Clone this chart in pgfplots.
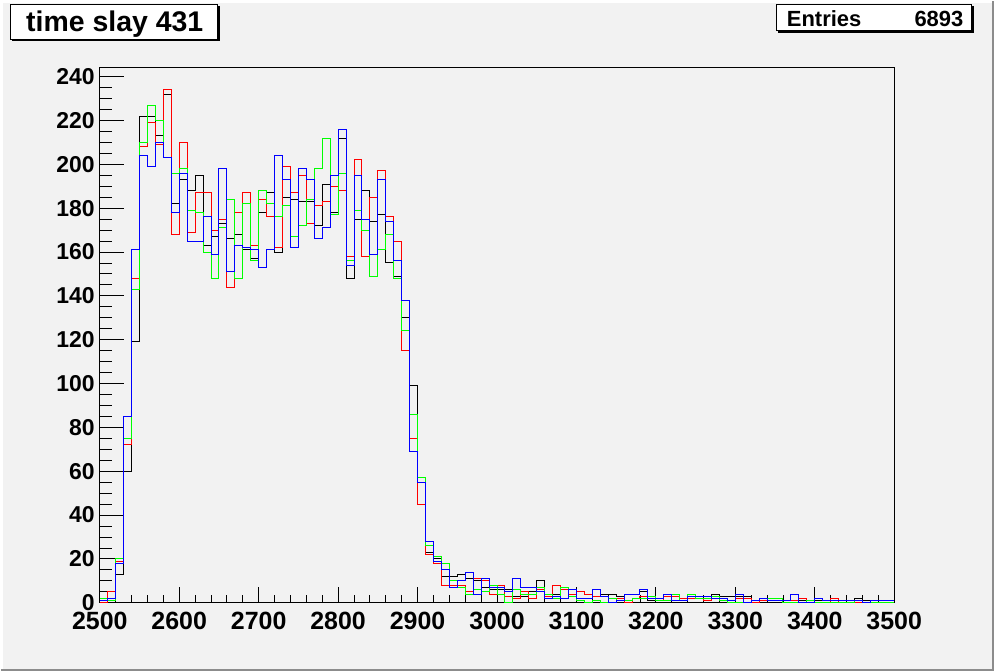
\documentclass[border=0pt]{standalone}
\usepackage{pgfplots}
\pgfplotsset{compat=1.18}
\usepackage{pgfplotstable}
\usepackage{fontspec}
\setmainfont{Liberation Sans}
\definecolor{canvas}{RGB}{242,242,242}
\definecolor{rred}{RGB}{255,0,0}
\definecolor{rgreen}{RGB}{0,255,0}
\definecolor{rblue}{RGB}{0,0,255}

\pgfplotstableread{
x k r g b
2500 1 0 2 1
2510 1 5 1 2
2520 13 19 20 18
2530 60 72 75 85
2540 119 148 143 161
2550 222 208 210 204
2560 222 219 227 199
2570 213 209 220 210
2580 232 234 203 203
2590 182 168 196 178
2600 193 210 198 196
2610 188 169 179 165
2620 195 187 178 165
2630 163 187 160 176
2640 167 170 148 159
2650 173 175 171 198
2660 166 144 184 151
2670 168 178 148 163
2680 161 187 182 162
2690 157 163 156 161
2700 178 184 188 153
2710 187 176 182 161
2720 160 162 176 204
2730 185 199 181 193
2740 184 187 167 162
2750 183 195 172 198
2760 183 173 184 193
2770 172 181 198 166
2780 191 183 212 171
2790 178 190 177 195
2800 212 188 196 216
2810 148 158 156 154
2820 175 202 179 195
2830 188 158 170 175
2840 174 185 149 159
2850 177 197 161 193
2860 155 176 168 174
2870 149 165 148 156
2880 130 115 124 138
2890 99 75 86 69
2900 55 45 57 55
2910 23 22 26 28
2920 20 18 21 19
2930 12 8 18 15
2940 12 8 10 7
2950 13 8 7 10
2960 11 5 4 14
2970 10 11 6 4
2980 7 10 5 11
2990 6 4 8 7
3000 6 8 4 7
3010 6 3 0 5
3020 3 2 6 11
3030 3 5 4 7
3040 5 2 4 7
3050 10 6 7 5
3060 4 3 4 2
3070 4 8 2 3
3080 6 6 7 2
3090 4 4 3 6
3100 2 5 1 2
3110 2 4 0 2
3120 3 3 1 6
3130 4 3 0 3
3140 4 2 2 0
3150 3 2 1 1
3160 4 0 1 4
3170 4 2 2 4
3180 5 3 2 6
3190 1 3 3 2
3200 2 1 1 2
3210 4 3 1 4
3220 3 3 4 1
3230 2 2 1 1
3240 2 2 4 3
3250 3 2 2 3
3260 2 1 2 3
3270 4 3 3 2
3280 3 2 1 2
3290 3 1 0 1
3300 3 2 0 4
3310 3 2 0 0
3320 1 0 1 1
3330 2 1 2 2
3340 1 1 2 1
3350 1 1 2 1
3360 1 1 0 1
3370 1 1 0 4
3380 1 2 0 0
3390 0 0 1 0
3400 1 0 0 2
3410 1 0 0 1
3420 1 2 0 1
3430 1 0 0 1
3440 1 0 0 1
3450 2 0 1 1
3460 1 0 0 0
3470 1 0 0 1
3480 1 0 0 1
3490 1 0 0 1
3500 1 0 0 1
}\histdata

\begin{document}
\begin{tikzpicture}[x=1pt,y=1pt]
\fill[canvas] (0,0) rectangle (995,671);
\begin{axis}[
  at={(99pt,68pt)}, anchor=south west,
  scale only axis, width=796pt, height=536pt,
  xmin=2500, xmax=3500, ymin=0, ymax=244,
  axis background/.style={fill=canvas},
  tick align=inside, tick pos=left,
  xtick={2500,2600,...,3500}, minor x tick num=4,
  ytick={0,20,...,240}, minor y tick num=3,
  tick style={black, line width=0.9pt},
  xtick style={/pgfplots/major tick length=16pt,/pgfplots/minor tick length=8pt},
  ytick style={/pgfplots/major tick length=24pt,/pgfplots/minor tick length=12pt},
  ticklabel style={inner sep=0pt},
  yticklabel style={xshift=-5pt, font=\fontsize{23}{23}\selectfont\bfseries},
  xticklabel style={yshift=-9pt, font=\fontsize{25}{25}\selectfont\bfseries},
  /pgf/number format/assume math mode=true,
  /pgf/number format/1000 sep={},
  scaled ticks=false,
  axis line style={black, line width=0.9pt},
]
\addplot[black, const plot, line width=1pt] table[x=x,y=k]{\histdata};
\addplot[rred, const plot, line width=1pt] table[x=x,y=r]{\histdata};
\addplot[rgreen, const plot, line width=1pt] table[x=x,y=g]{\histdata};
\addplot[rblue, const plot, line width=1pt] table[x=x,y=b]{\histdata};
\end{axis}
% title box
\fill[black] (11.5,630.7) rectangle (219.3,665.5);
\filldraw[fill=white, draw=black, line width=1pt] (9.5,632.5) rectangle (217.3,667.7);
\node[anchor=base, inner sep=0pt] at (114,640.3) {\fontsize{28.5}{30}\selectfont\bfseries time slay 431};
% stats box
\fill[black] (778.5,639.3) rectangle (974.5,665.5);
\filldraw[fill=white, draw=black, line width=1pt] (776.7,641) rectangle (972.7,667.7);
\node[anchor=base west, inner sep=0pt] at (787.3,645) {\fontsize{22}{24}\selectfont\bfseries Entries};
\node[anchor=base east, inner sep=0pt] at (964.5,645) {\fontsize{22}{24}\selectfont\bfseries 6893};
% canvas border
\draw[white, line width=2pt] (1,0) -- (1,670) -- (995,670);
\draw[black!45, line width=2pt] (0,1) -- (994,1) -- (994,671);
\end{tikzpicture}
\end{document}
